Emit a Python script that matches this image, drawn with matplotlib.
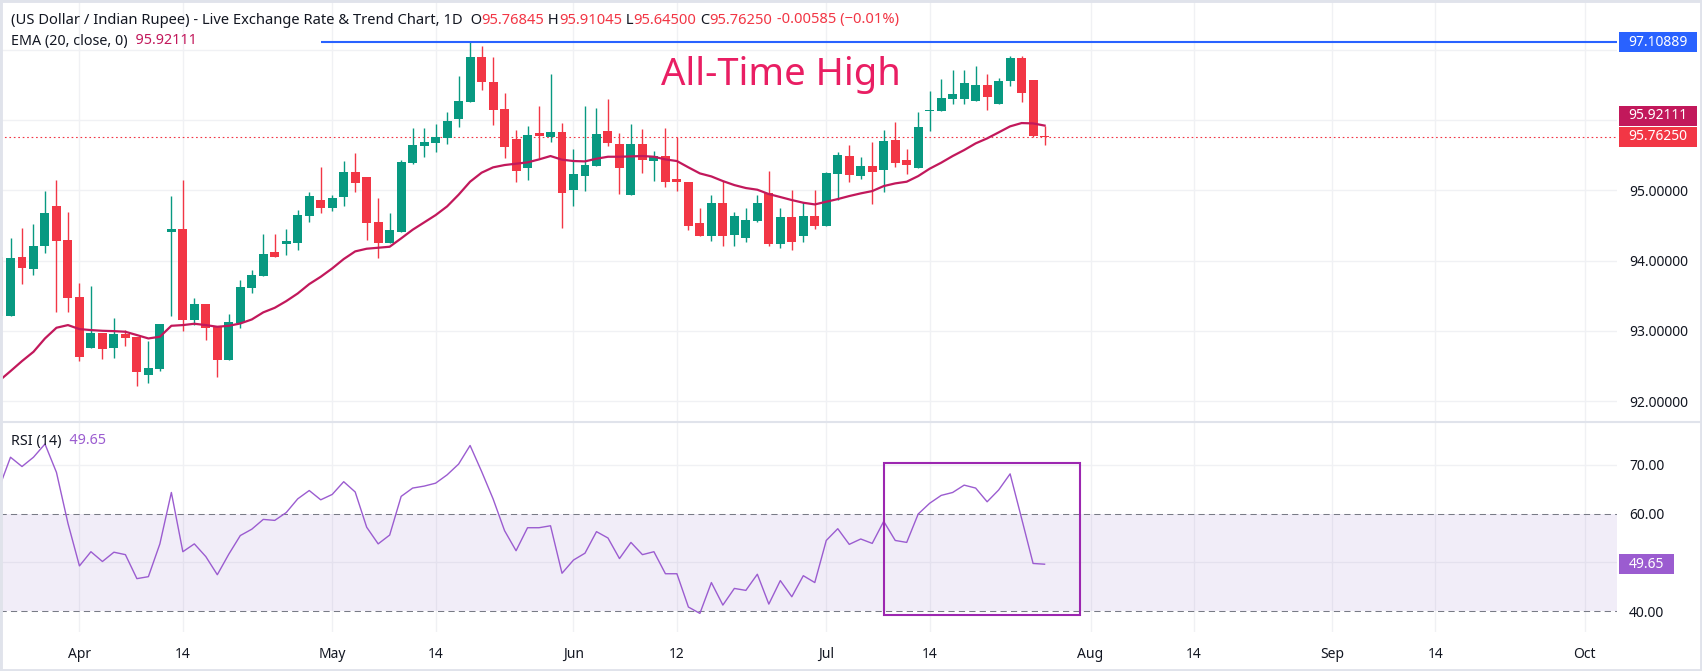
import numpy as np
import pandas as pd
import matplotlib
matplotlib.use("Agg")
import matplotlib.pyplot as plt
import matplotlib.patches as patches
from matplotlib.lines import Line2D

plt.rcParams['font.family'] = ['Noto Sans', 'DejaVu Sans']

W, H = 1702, 671

# daily bars (weekdays) starting here
first_day = "2026-03-23"

opens = [94.056, 93.216, 94.051, 93.885, 94.212, 94.776, 94.293, 93.482, 92.761, 92.970,
         92.761, 92.956, 92.913, 92.377, 92.463, 94.402, 94.449, 93.160, 93.382, 93.055,
         92.591, 93.112, 93.615, 93.786, 94.122, 94.241, 94.255, 94.639, 94.862, 94.753,
         94.909, 95.260, 95.189, 94.549, 94.255, 94.411, 95.393, 95.630, 95.673, 95.748,
         96.014, 96.261, 96.896, 96.540, 96.156, 95.730, 95.322, 95.815, 95.763, 95.829,
         95.009, 95.208, 95.350, 95.843, 95.658, 94.938, 95.658, 95.421, 95.488, 95.161,
         95.118, 94.535, 94.354, 94.819, 94.369, 94.326, 94.568, 94.961, 94.241, 94.620,
         94.354, 94.634, 94.497, 95.236, 95.488, 95.208, 95.345, 95.293, 95.715, 95.431,
         95.322, 96.133, 96.133, 96.303, 96.303, 96.275, 96.498, 96.232, 96.559, 96.882,
         96.569, 95.76845]
highs = [94.100, 94.321, 94.464, 94.520, 94.990, 95.146, 94.691, 93.681, 93.639, 92.970,
         93.183, 93.013, 92.913, 92.856, 93.098, 94.919, 95.146, 93.468, 93.382, 93.055,
         93.240, 93.724, 93.866, 94.378, 94.378, 94.449, 94.720, 94.976, 95.336, 94.933,
         95.417, 95.530, 95.189, 94.890, 94.677, 95.431, 95.886, 95.886, 95.943, 96.114,
         96.626, 97.10889, 97.052, 96.896, 96.384, 95.858, 95.914, 96.199, 96.654, 95.957,
         95.587, 96.199, 96.170, 96.298, 95.815, 95.943, 95.872, 95.559, 95.886, 95.758,
         95.118, 94.748, 94.933, 95.137, 94.691, 94.748, 94.933, 95.274, 94.748, 95.004,
         94.833, 95.004, 95.260, 95.545, 95.644, 95.474, 95.687, 95.858, 95.971, 95.587,
         96.114, 96.412, 96.583, 96.711, 96.711, 96.768, 96.654, 96.597, 96.910, 96.910,
         96.569, 95.91045]
lows = [93.200, 93.216, 93.667, 93.795, 94.113, 93.273, 93.273, 92.572, 92.761, 92.600,
        92.619, 92.790, 92.216, 92.264, 92.434, 93.216, 93.003, 93.089, 92.875, 92.349,
        92.591, 93.046, 93.539, 93.786, 94.056, 94.084, 94.151, 94.549, 94.682, 94.705,
        94.781, 94.976, 94.293, 94.037, 94.255, 94.411, 95.374, 95.473, 95.545, 95.658,
        95.900, 96.261, 96.427, 95.929, 95.459, 95.118, 95.146, 95.459, 95.687, 94.464,
        94.781, 94.995, 95.350, 95.635, 94.952, 94.938, 95.251, 95.137, 95.051, 94.995,
        94.440, 94.354, 94.283, 94.212, 94.212, 94.269, 94.554, 94.212, 94.184, 94.155,
        94.269, 94.454, 94.497, 94.867, 95.123, 95.165, 94.810, 94.980, 95.336, 95.236,
        95.322, 95.848, 96.133, 96.232, 96.232, 96.275, 96.147, 96.232, 96.488, 96.261,
        95.763, 95.64500]
closes = [93.216, 94.037, 93.899, 94.207, 94.677, 94.283, 93.473, 92.633, 92.970, 92.742,
          92.956, 92.904, 92.420, 92.472, 93.098, 94.449, 93.160, 93.382, 93.046, 92.591,
          93.126, 93.624, 93.795, 94.094, 94.056, 94.279, 94.648, 94.919, 94.753, 94.890,
          95.260, 95.108, 94.539, 94.255, 94.435, 95.402, 95.644, 95.687, 95.758, 95.986,
          96.270, 96.896, 96.545, 96.142, 95.616, 95.274, 95.786, 95.772, 95.829, 94.966,
          95.232, 95.360, 95.801, 95.677, 95.322, 95.658, 95.436, 95.488, 95.123, 95.123,
          94.497, 94.354, 94.819, 94.354, 94.634, 94.577, 94.819, 94.241, 94.620, 94.269,
          94.634, 94.497, 95.246, 95.502, 95.222, 95.345, 95.265, 95.701, 95.393, 95.364,
          95.900, 96.142, 96.313, 96.370, 96.526, 96.498, 96.332, 96.555, 96.882, 96.389,
          95.76835, 95.76250]
ema20 = [92.290, 92.429, 92.572, 92.704, 92.894, 93.046, 93.084, 93.027, 93.013, 93.003,
         92.998, 92.989, 92.942, 92.894, 92.918, 93.074, 93.084, 93.103, 93.084, 93.060,
         93.074, 93.107, 93.164, 93.265, 93.330, 93.425, 93.534, 93.667, 93.771, 93.890,
         94.023, 94.132, 94.170, 94.184, 94.198, 94.317, 94.440, 94.544, 94.648, 94.772,
         94.938, 95.123, 95.251, 95.327, 95.360, 95.379, 95.398, 95.440, 95.488, 95.436,
         95.417, 95.412, 95.450, 95.478, 95.478, 95.483, 95.488, 95.478, 95.440, 95.417,
         95.327, 95.241, 95.198, 95.132, 95.075, 95.033, 95.009, 94.947, 94.905, 94.862,
         94.824, 94.800, 94.838, 94.876, 94.919, 94.957, 94.990, 95.061, 95.099, 95.123,
         95.203, 95.308, 95.393, 95.488, 95.573, 95.668, 95.739, 95.824, 95.910, 95.957,
         95.952, 95.92111]
rsi14 = [65.2, 71.5, 69.6, 71.5, 74.2, 68.4, 58.0, 49.3, 52.2, 50.2,
         52.1, 51.6, 46.7, 47.1, 53.8, 64.3, 52.2, 53.8, 51.2, 47.5,
         51.7, 55.5, 56.8, 58.8, 58.6, 60.2, 63.0, 64.7, 62.8, 63.9,
         66.5, 64.4, 57.2, 53.8, 55.6, 63.5, 65.2, 65.6, 66.2, 67.9,
         70.1, 73.9, 68.6, 63.0, 56.5, 52.4, 57.1, 57.1, 57.5, 47.8,
         50.5, 51.9, 56.3, 55.0, 50.8, 54.1, 51.6, 52.2, 47.7, 47.7,
         40.9, 39.6, 45.9, 41.3, 44.7, 44.3, 47.6, 41.5, 46.3, 43.0,
         47.3, 45.9, 54.5, 56.9, 53.7, 54.8, 53.9, 58.4, 54.5, 54.1,
         59.9, 62.1, 63.7, 64.3, 65.8, 65.2, 62.4, 64.8, 68.1, 59.0,
         49.8, 49.65]

ath_level = 97.10889
ath_from = "2026-04-30"
rsi_box_days = ("2026-07-08", "2026-07-31")
rsi_box_range = (39.3, 70.4)

tick_days = ["2026-04-01", "2026-04-14", "2026-05-01", "2026-05-14", "2026-06-01",
             "2026-06-12", "2026-07-01", "2026-07-14", "2026-08-03", "2026-08-14",
             "2026-09-01", "2026-09-14", "2026-10-01"]
tick_labels = ["Apr", "14", "May", "14", "Jun", "12", "Jul", "14", "Aug", "14", "Sep", "14", "Oct"]
price_ticks = [92, 93, 94, 95, 96, 97]
rsi_ticks = [40, 50, 60, 70]
rsi_band = (40, 60)

GREEN = '#089981'
RED = '#f23645'
EMA_C = '#c2185b'
RSI_C = '#9b5cd0'
BLUE = '#2962ff'
TXT = '#131722'
GRID = '#f0f1f4'

days = pd.bdate_range(first_day, "2026-10-30")
def pos(d):
    return days.get_loc(pd.Timestamp(d))

x = np.arange(len(closes))
o, h, l, c = (np.array(v) for v in (opens, highs, lows, closes))

fig = plt.figure(figsize=(W / 100, H / 100), dpi=100)
fig.patch.set_facecolor('white')
ax = fig.add_axes([0, 1 - 421 / H, 1617 / W, 421 / H])
ax2 = fig.add_axes([0, 1 - 632 / H, 1617 / W, 211 / H])

xlim = (0.086, 140.82)
for a in (ax, ax2):
    a.set_xlim(*xlim)
    for s in a.spines.values():
        s.set_visible(False)
    a.yaxis.tick_right()
    a.tick_params(axis='y', length=0, pad=8.6, labelsize=10, labelcolor=TXT)
    for d in tick_days:
        a.axvline(pos(d), color=GRID, lw=1, zorder=0)

# main panel
ax.set_ylim(91.72, 97.707)
ax.set_xticks([])
for v in price_ticks:
    ax.axhline(v, color=GRID, lw=1, zorder=0)

cols = np.where(c >= o, GREEN, RED)
ax.vlines(x, l, h, colors=cols, lw=1, zorder=3)
ax.bar(x, np.maximum(np.abs(c - o), 0.014), bottom=np.minimum(o, c), width=0.78,
       color=cols, lw=0, zorder=4)
ax.plot(x, ema20, color=EMA_C, lw=1.6, zorder=5)

ax.axhline(closes[-1], color=RED, lw=0.8, ls=(0, (1.5, 2.5)), zorder=2)
ax.hlines(ath_level, pos(ath_from), xlim[1], color=BLUE, lw=1.5, zorder=6)

ax.text(68.06, 96.64, "All-Time High", color='#e91e63', fontsize=27.5,
        ha='center', va='center', zorder=7)

# header legend
def chain(axis, xy, parts, size=10.6):
    t = axis.annotate(parts[0][0], xy=xy, xycoords='axes fraction', va='center', ha='left',
                      color=parts[0][1], fontsize=size, zorder=8)
    for s, col in parts[1:]:
        t = axis.annotate(s, xy=(1, 0), xycoords=t, va='bottom', ha='left',
                          color=col, fontsize=size, zorder=8)

chg = closes[-1] - closes[-2]
pct = chg / closes[-2] * 100
chain(ax, (11 / 1617, 1 - 20 / 421), [
    ("(US Dollar / Indian Rupee) - Live Exchange Rate & Trend Chart, 1D", TXT),
    ("  O", TXT), (f"{opens[-1]:.5f}", RED),
    (" H", TXT), (f"{highs[-1]:.5f}", RED),
    (" L", TXT), (f"{lows[-1]:.5f}", RED),
    (" C", TXT), (f"{closes[-1]:.5f}", RED),
    (f" {chg:.5f} (\u2212{abs(pct):.2f}%)", RED)])
chain(ax, (11 / 1617, 1 - 41 / 421), [("EMA (20, close, 0)", TXT), (f"  {ema20[-1]:.5f}", EMA_C)],
      size=10.3)

# RSI panel
ax2.set_ylim(35.8, 78.9)
for v in rsi_ticks:
    if v not in rsi_band:
        ax2.axhline(v, color=GRID, lw=1, zorder=0)
ax2.axhspan(rsi_band[0], rsi_band[1], color='#7e57c2', alpha=0.1, lw=0, zorder=1)
for v in rsi_band:
    ax2.axhline(v, color='#787b86', lw=0.75, ls=(0, (6, 4)), zorder=2)
ax2.plot(x, rsi14, color=RSI_C, lw=1, zorder=4)
bx0, bx1 = pos(rsi_box_days[0]), pos(rsi_box_days[1]) + 0.1
ax2.add_patch(patches.Rectangle((bx0, rsi_box_range[0]), bx1 - bx0,
                                rsi_box_range[1] - rsi_box_range[0],
                                fill=False, ec='#9c27b0', lw=1.5, zorder=5))
chain(ax2, (11 / 1617, 1 - 20 / 211), [("RSI (14)", TXT), (f"  {rsi14[-1]:.2f}", RSI_C)],
      size=10.3)

ax2.set_xticks([pos(d) for d in tick_days], tick_labels)
ax2.tick_params(axis='x', length=0, pad=11, labelsize=10, labelcolor=TXT)
for lab in ax2.get_xticklabels():
    if lab.get_text().isalpha():
        lab.set_fontweight('bold')

# price scale badges
def badge(axis, yval, label, color, w_px, shift_px=0):
    y_px = axis.transData.transform((0, yval))[1] + shift_px
    x0 = 1619
    fig.add_artist(patches.Rectangle((x0 / W, (y_px - 10) / H), w_px / W, 20 / H,
                                     transform=fig.transFigure, color=color, lw=0, zorder=10))
    fig.text((x0 + w_px / 2) / W, y_px / H, label, color='white', fontsize=10,
             ha='center', va='center', zorder=11)
    return y_px

close_px = ax.transData.transform((0, closes[-1]))[1]
ema_px = ax.transData.transform((0, ema20[-1]))[1]
ema_shift = max(0, close_px + 21 - ema_px)
main_badges = [badge(ax, ath_level, f"{ath_level:.5f}", BLUE, 78),
               badge(ax, closes[-1], f"{closes[-1]:.5f}", RED, 78),
               badge(ax, ema20[-1], f"{ema20[-1]:.5f}", EMA_C, 78, ema_shift)]
rsi_badges = [badge(ax2, rsi14[-1], f"{rsi14[-1]:.2f}", RSI_C, 55)]

# scale labels hidden behind a badge are left blank
def scale_labels(axis, ticks, fmt, covered):
    labels = []
    for v in ticks:
        t_px = axis.transData.transform((0, v))[1]
        hidden = any(abs(t_px - b) < 17 for b in covered)
        labels.append("" if hidden else fmt.format(v))
    axis.set_yticks(ticks, labels)

scale_labels(ax, price_ticks, "{:.5f}", main_badges)
scale_labels(ax2, rsi_ticks, "{:.2f}", rsi_badges)

# pane separator and outer frame
fig.add_artist(Line2D([0, 1], [1 - 421.5 / H] * 2, transform=fig.transFigure,
                      color='#e0e3eb', lw=1.5, zorder=9))
fig.add_artist(patches.Rectangle((0, 0), 1, 1, transform=fig.transFigure, fill=False,
                                 ec='#e0e3eb', lw=3.5, zorder=20))

fig.savefig("out.png", dpi=100, facecolor='white')
